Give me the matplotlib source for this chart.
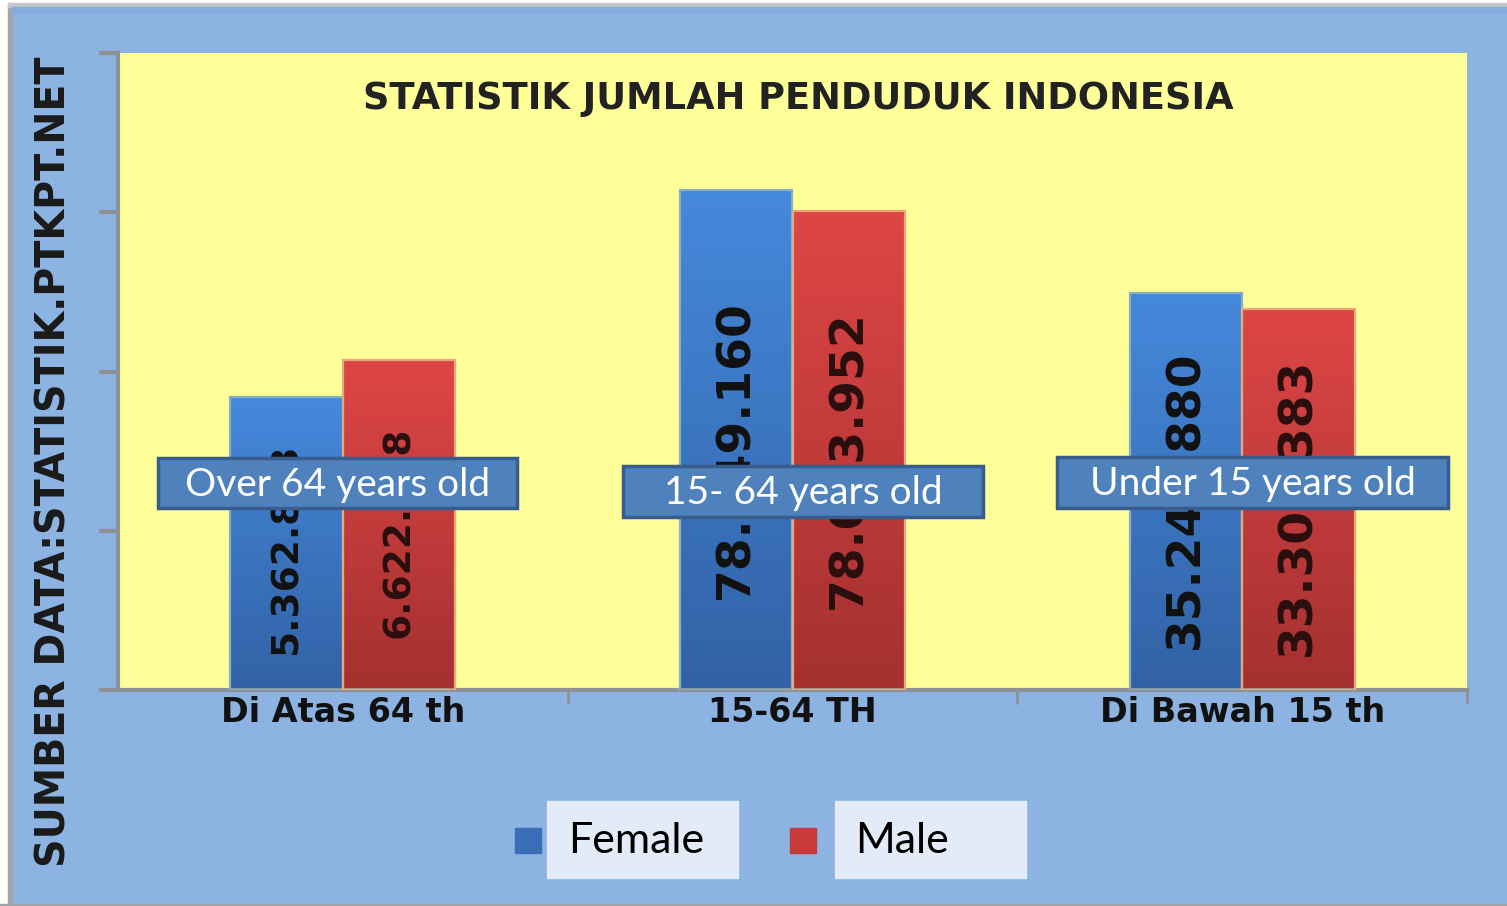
import numpy as np
import matplotlib
matplotlib.use("Agg")
import matplotlib.pyplot as plt
from matplotlib.patches import Rectangle
from matplotlib.colors import LinearSegmentedColormap

# ---------------- data ----------------
categories = ["Di Atas 64 th", "15-64 TH", "Di Bawah 15 th"]
callouts = ["Over 64 years old", "15- 64 years old", "Under 15 years old"]
series = ["Female", "Male"]
female_labels = ["5.362.853", "78.549.160", "35.241.880"]
male_labels = ["6.622.078", "78.013.952", "33.301.383"]
# bar heights as drawn on the chart's (unlabelled) value axis
female_heights = [1.84, 3.14, 2.49]
male_heights = [2.07, 3.01, 2.39]
title = "STATISTIK JUMLAH PENDUDUK INDONESIA"
source = "SUMBER DATA:STATISTIK.PTKPT.NET"

# ---------------- figure ----------------
W, H = 1507, 906
BG = "#8DB3E2"
fig = plt.figure(figsize=(W / 100, H / 100), dpi=100, facecolor=BG)

def fx(px):
    return px / W

def fy(py):
    return 1 - py / H

# frame / borders
fig.add_artist(Rectangle((0, 0), fx(8), 1, transform=fig.transFigure, color="white", zorder=0))
fig.add_artist(Rectangle((0, fy(3)), 1, 3 / H, transform=fig.transFigure, color="white", zorder=0))
fig.add_artist(Rectangle((fx(8), 0), 4 / W, fy(3), transform=fig.transFigure, color="#A3A7AC", zorder=0))
fig.add_artist(Rectangle((fx(8), fy(7)), 1, 4 / H, transform=fig.transFigure, color="#C4C6C8", zorder=0))
fig.add_artist(Rectangle((fx(12), fy(13)), 1, 6 / H, transform=fig.transFigure, color="#84ABDD", zorder=0))
fig.add_artist(Rectangle((0, 0), 1, 2 / H, transform=fig.transFigure, color="#A0A4A8", zorder=0))

ax = fig.add_axes([fx(118), fy(690), 1349 / W, 637 / H])
ax.set_facecolor("#FFFF99")

x = np.arange(len(categories))
bw = 0.25

blue_cmap = LinearSegmentedColormap.from_list("b", ["#3262A5", "#4589DC"])
red_cmap = LinearSegmentedColormap.from_list("r", ["#A53030", "#DE4646"])
grad = np.linspace(0, 1, 256).reshape(-1, 1)

bars_f = ax.bar(x - bw / 2, female_heights, bw, facecolor="none",
                edgecolor="#86AEC6", linewidth=1.6, zorder=3, label=series[0])
bars_m = ax.bar(x + bw / 2, male_heights, bw, facecolor="none",
                edgecolor="#E9A877", linewidth=1.6, zorder=3, label=series[1])

for bars, cmap in ((bars_f, blue_cmap), (bars_m, red_cmap)):
    for b in bars:
        x0, y0 = b.get_x(), b.get_y()
        im = ax.imshow(grad, extent=[x0, x0 + b.get_width(), y0, y0 + b.get_height()],
                       origin="lower", aspect="auto", cmap=cmap, zorder=2,
                       interpolation="bilinear")
        im.set_clip_path(b)

ax.set_xlim(-0.5, 2.5)
ax.set_ylim(0, 4)

# value labels inside bars
label_sizes = [27, 34, 34]
for i in range(len(categories)):
    ax.text(x[i] - bw / 2, female_heights[i] * 0.48, female_labels[i], rotation=90,
            ha="center", va="center", fontsize=label_sizes[i], fontweight="bold",
            color="#111111", zorder=4)
    ax.text(x[i] + bw / 2, male_heights[i] * 0.48, male_labels[i], rotation=90,
            ha="center", va="center", fontsize=label_sizes[i], fontweight="bold",
            color="#2A0E0E", zorder=4)

# callout boxes (axes fraction)
boxes = [(0.0297, 0.2857, 0.2661, 0.0785),
         (0.3744, 0.2716, 0.2668, 0.0800),
         (0.6961, 0.2857, 0.2898, 0.0801)]
for (bx, by, bwid, bh), txt in zip(boxes, callouts):
    ax.add_patch(Rectangle((bx, by), bwid, bh, transform=ax.transAxes,
                           facecolor="#4F81BD", edgecolor="#385C8C", linewidth=2.5,
                           zorder=5, clip_on=False))
    ax.text(bx + bwid / 2, by + bh / 2 - 0.003, txt, transform=ax.transAxes,
            ha="center", va="center", fontsize=28, family="Lato", color="white", zorder=6)

# title
ax.text(0.504, 0.928, title, transform=ax.transAxes, ha="center", va="center",
        fontsize=26.5, fontweight="bold", color="#222222", zorder=4)

# axes styling
for s in ("top", "right"):
    ax.spines[s].set_visible(False)
for s in ("left", "bottom"):
    ax.spines[s].set_color("#8E9296")
    ax.spines[s].set_linewidth(3)
ax.set_yticks(range(5))
ax.set_yticklabels([])
ax.tick_params(axis="y", length=14, width=3, color="#8E9296", direction="out")
ax.set_xticks(x)
ax.set_xticklabels(categories, fontsize=24, fontweight="bold", color="#111111")
ax.tick_params(axis="x", which="major", length=0, pad=4)
ax.set_xticks([0.5, 1.5, 2.5], minor=True)
ax.tick_params(axis="x", which="minor", length=10, width=2, color="#8E9296", direction="out")

# source text (left)
fig.text(fx(55), fy(462), source, rotation=90, ha="center", va="center",
         fontsize=28.5, fontweight="bold", color="#1A1A1A")

# legend
leg_items = [(series[0], "#3A6FB8", 515, 547, 568), (series[1], "#C83A3A", 790, 835, 855)]
for name, col, sqx, boxx, tx in leg_items:
    fig.add_artist(Rectangle((fx(sqx), fy(853)), 26 / W, 25 / H, transform=fig.transFigure,
                             color=col, zorder=2))
    fig.add_artist(Rectangle((fx(boxx), fy(878)), 191 / W, 77 / H, transform=fig.transFigure,
                             color="#E4EBF8", zorder=2))
    fig.text(fx(tx), fy(841), name, ha="left", va="center", fontsize=31,
             family="Lato", color="#000000", zorder=3)

fig.savefig("out.png", dpi=100, facecolor=BG)
